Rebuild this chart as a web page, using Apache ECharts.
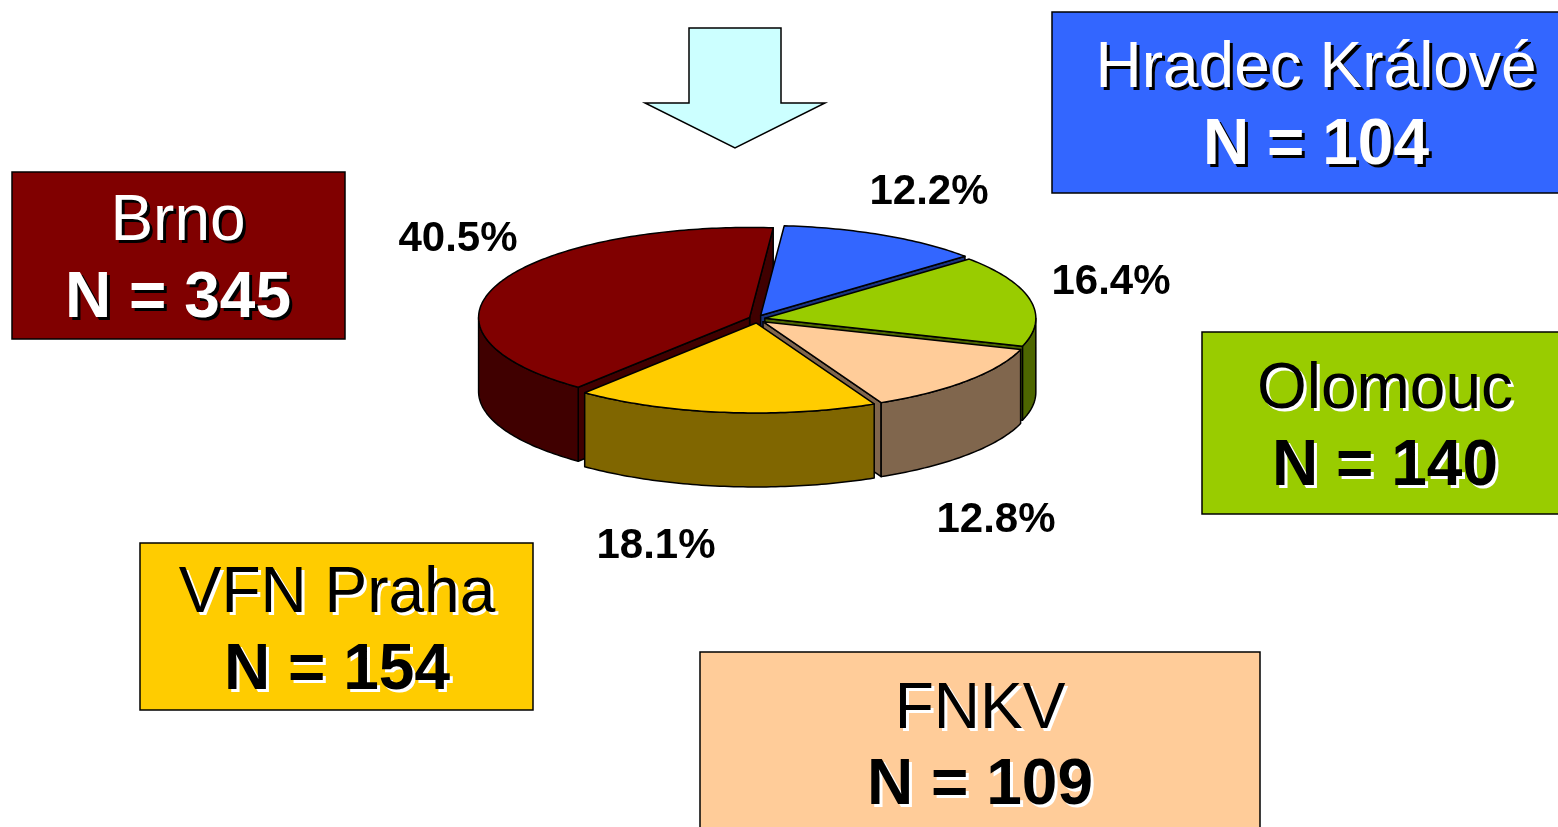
<!DOCTYPE html>
<html>
<head>
<meta charset="utf-8">
<title>Pacienti podle center</title>
<script src="https://cdn.jsdelivr.net/npm/echarts@6/dist/echarts.min.js"></script>
<style>
  html, body { margin: 0; padding: 0; background: #fff; }
  #chart { width: 1558px; height: 827px; }
</style>
</head>
<body>
<div id="chart"></div>
<script>
// data, in pie order (clockwise from 12 o'clock)
const centers = ['Hradec Králové', 'Olomouc', 'FNKV', 'VFN Praha', 'Brno'];
const counts = [104, 140, 109, 154, 345];
const topColors = ['#3366FF', '#99CC00', '#FFCC99', '#FFCC00', '#800000'];
const sideColors = ['#1A3380', '#4D6600', '#80664D', '#806600', '#400000'];

// layout of the pseudo-3D pie
const cx = 757, cy = 319, rx = 271, ry = 90, depth = 74, explode = 8, startDeg = 5;
// where each percentage label sits (same order as centers)
const pctPos = [[929, 192], [1111, 282], [996, 520], [656, 546], [458, 239]];
// legend boxes: x, y, w, h, text x, light text?
const boxes = [
  { x: 1052, y: 12, w: 520, h: 181, tx: 1316, y1: 69, y2: 146, light: true },
  { x: 1202, y: 332, w: 370, h: 182, tx: 1385, y1: 390, y2: 467, light: false },
  { x: 700, y: 652, w: 560, h: 200, tx: 980, y1: 710, y2: 786, light: false },
  { x: 140, y: 543, w: 393, h: 167, tx: 337, y1: 594, y2: 671, light: false },
  { x: 12, y: 172, w: 333, h: 167, tx: 178, y1: 222, y2: 299, light: true }
];

const total = counts.reduce((a, b) => a + b, 0);
const startAngles = [];
let acc = 0;
counts.forEach(v => { startAngles.push(startDeg * Math.PI / 180 + acc / total * 2 * Math.PI); acc += v; });

const chart = echarts.init(document.getElementById('chart'));

function pt(t, ox, oy, dz) {
  return [cx + ox + rx * Math.sin(t), cy + oy - ry * Math.cos(t) + dz];
}
function arc(a, b, ox, oy, dz) {
  const n = Math.max(2, Math.ceil((b - a) / (Math.PI / 180)));
  const out = [];
  for (let k = 0; k <= n; k++) out.push(pt(a + (b - a) * k / n, ox, oy, dz));
  return out;
}
function meanY(pts) { return pts.reduce((s, p) => s + p[1], 0) / pts.length; }

function renderSlice(params, api) {
  const i = params.dataIndex;
  const v = api.value(0);
  const s = startAngles[i];
  const e = s + v / total * 2 * Math.PI;
  const mid = (s + e) / 2;
  const ox = explode * Math.sin(mid), oy = -explode * Math.cos(mid) * 0.5;
  const c0 = [cx + ox, cy + oy], c1 = [cx + ox, cy + oy + depth];
  const line = { stroke: '#000', lineWidth: 1.5, lineJoin: 'round' };
  const children = [];
  const side = Object.assign({ fill: sideColors[i] }, line);

  // outer rim wall, only the front half is visible
  const a = Math.max(s, Math.PI / 2), b = Math.min(e, Math.PI * 1.5);
  if (a < b) {
    const pts = arc(a, b, ox, oy, 0).concat(arc(a, b, ox, oy, depth).reverse());
    children.push({ type: 'polygon', z2: 10 + Math.round(meanY(pts)), shape: { points: pts }, style: side });
  }
  // radial walls facing the viewer
  if (Math.sin(s) < 0) {
    const pts = [c0, pt(s, ox, oy, 0), pt(s, ox, oy, depth), c1];
    children.push({ type: 'polygon', z2: 10 + Math.round(meanY(pts)), shape: { points: pts }, style: side });
  }
  if (Math.sin(e) > 0) {
    const pts = [c0, pt(e, ox, oy, 0), pt(e, ox, oy, depth), c1];
    children.push({ type: 'polygon', z2: 10 + Math.round(meanY(pts)), shape: { points: pts }, style: side });
  }
  // top face
  children.push({
    type: 'polygon', z2: 1000,
    shape: { points: [c0].concat(arc(s, e, ox, oy, 0)) },
    style: Object.assign({ fill: topColors[i] }, line)
  });
  // percentage label
  children.push({
    type: 'text', z2: 2000,
    style: {
      text: (v / total * 100).toFixed(1) + '%',
      x: pctPos[i][0], y: pctPos[i][1],
      fill: '#000', font: 'bold 42px Arial, "Liberation Sans", sans-serif',
      textAlign: 'center', textVerticalAlign: 'middle'
    }
  });
  return { type: 'group', children: children };
}

// legend boxes built from the data arrays
const graphics = [{
  type: 'polygon',
  shape: { points: [[689, 28], [781, 28], [781, 103], [825, 103], [735, 148], [645, 103], [689, 103]] },
  style: { fill: '#CCFFFF', stroke: '#000', lineWidth: 1.5 }
}];
boxes.forEach((bx, i) => {
  const fg = bx.light ? '#fff' : '#000';
  const sh = bx.light ? '#000' : '#fff';
  const lines = [
    { text: centers[i], y: bx.y1, font: '64px Arial, "Liberation Sans", sans-serif' },
    { text: 'N = ' + counts[i], y: bx.y2, font: 'bold 64px Arial, "Liberation Sans", sans-serif' }
  ];
  graphics.push({
    type: 'rect',
    shape: { x: bx.x, y: bx.y, width: bx.w, height: bx.h },
    style: { fill: topColors[i], stroke: '#000', lineWidth: 1.5 }
  });
  lines.forEach(l => {
    graphics.push({
      type: 'text', z: 5,
      style: { text: l.text, x: bx.tx + 3, y: l.y + 3, fill: sh, font: l.font, textAlign: 'center', textVerticalAlign: 'middle' }
    });
    graphics.push({
      type: 'text', z: 6,
      style: { text: l.text, x: bx.tx, y: l.y, fill: fg, font: l.font, textAlign: 'center', textVerticalAlign: 'middle' }
    });
  });
});

const option = {
  animation: false,
  graphic: graphics,
  series: [{
    type: 'custom',
    coordinateSystem: 'none',
    renderItem: renderSlice,
    data: counts.map((v, i) => ({ name: centers[i], value: [v] }))
  }]
};
chart.setOption(option);
</script>
</body>
</html>
